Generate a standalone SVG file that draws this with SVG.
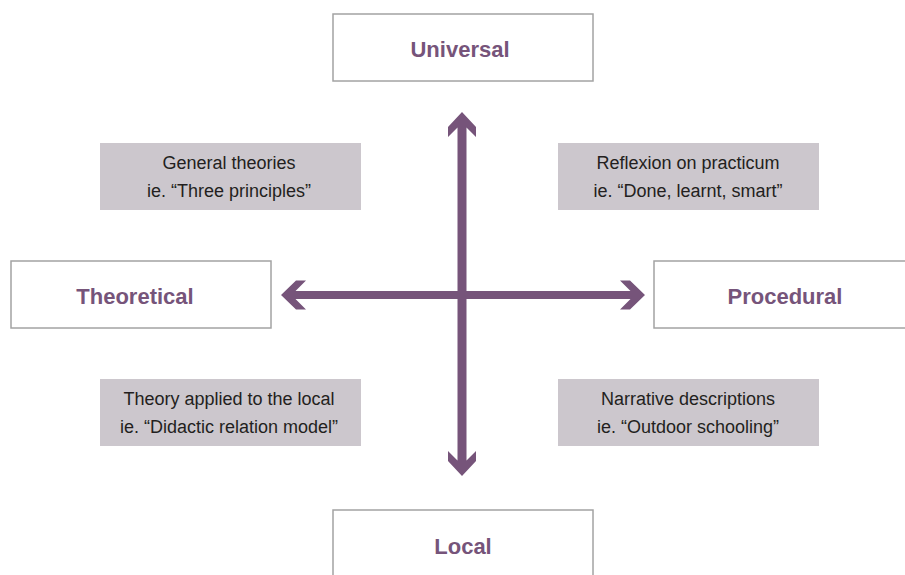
<svg xmlns="http://www.w3.org/2000/svg" width="905" height="575" viewBox="0 0 905 575">
  <style>
    .pole { fill: #ffffff; stroke: #a3a3a3; stroke-width: 1.5; }
    .pole-label { font-family: "Liberation Sans", Arial, sans-serif; font-weight: bold; font-size: 22px; fill: #76547a; text-anchor: middle; }
    .note { fill: #ccc7cd; }
    .note-text { font-family: "Liberation Sans", Arial, sans-serif; font-size: 18px; fill: #231f20; text-anchor: middle; }
    .axis { fill: #76547a; }
  </style>
  <rect width="905" height="575" fill="#ffffff"/>

  <!-- axes -->
  <g id="connectors">
    <!-- vertical double arrow -->
    <polygon class="axis" points="462,112 476,127 476,137 466.5,127.5 466.5,460.5 476,451 476,461 462,476 448,461 448,451 457.5,460.5 457.5,127.5 448,137 448,127"/>
    <!-- horizontal double arrow -->
    <polygon class="axis" points="281,295 296,280.5 306,280.5 295.5,291 630.5,291 620,280.5 630,280.5 645,295 630,309.5 620,309.5 630.5,299 295.5,299 306,309.5 296,309.5"/>
  </g>

  <g id="universal">
    <rect class="pole" x="333" y="14" width="260" height="67"/>
    <text class="pole-label" x="460" y="57">Universal</text>
  </g>
  <g id="theoretical">
    <rect class="pole" x="11" y="261" width="260" height="67"/>
    <text class="pole-label" x="135" y="304">Theoretical</text>
  </g>
  <g id="procedural">
    <rect class="pole" x="654" y="261" width="262" height="67"/>
    <text class="pole-label" x="785" y="304">Procedural</text>
  </g>
  <g id="local">
    <rect class="pole" x="333" y="510" width="260" height="80"/>
    <text class="pole-label" x="463" y="554">Local</text>
  </g>

  <g id="general-theories">
    <rect class="note" x="100" y="143" width="261" height="67"/>
    <text class="note-text" x="229" y="169">General theories</text>
    <text class="note-text" x="229" y="197">ie. “Three principles”</text>
  </g>
  <g id="reflexion">
    <rect class="note" x="558" y="143" width="261" height="67"/>
    <text class="note-text" x="688" y="169">Reflexion on practicum</text>
    <text class="note-text" x="688" y="197">ie. “Done, learnt, smart”</text>
  </g>
  <g id="theory-applied">
    <rect class="note" x="100" y="379" width="261" height="67"/>
    <text class="note-text" x="229" y="405">Theory applied to the local</text>
    <text class="note-text" x="229" y="433">ie. “Didactic relation model”</text>
  </g>
  <g id="narrative">
    <rect class="note" x="558" y="379" width="261" height="67"/>
    <text class="note-text" x="688" y="405">Narrative descriptions</text>
    <text class="note-text" x="688" y="433">ie. “Outdoor schooling”</text>
  </g>
</svg>
